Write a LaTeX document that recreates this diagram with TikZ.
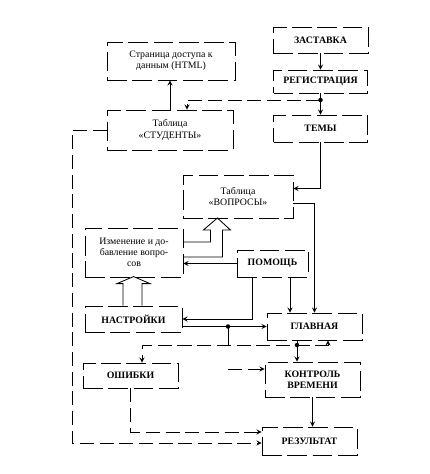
\documentclass[tikz,border=0pt]{standalone}
\usepackage{fontspec}
\setmainfont{Liberation Serif}
\begin{document}
\begin{tikzpicture}[
  x=0.025cm, y=-0.025cm,
  >=stealth,
  line width=0.6pt,
  blok/.style={
    draw,
    dash pattern=on 14pt off 4pt,
    align=center,
    inner sep=1pt,
    font=\fontsize{7}{8}\selectfont
  },
  blokb/.style={blok, font=\fontsize{7}{8}\selectfont\bfseries},
  razm/.style 2 args={minimum width=#1*0.025cm, minimum height=#2*0.025cm},
  pun/.style={dash pattern=on 10pt off 4pt}
]
\useasboundingbox (0,0) rectangle (429,474);

\node[blokb, razm={95}{26}] (zast) at (320.5,40) {ЗАСТАВКА};
\node[blokb, razm={94}{23}] (reg) at (320.5,81.5) {РЕГИСТРАЦИЯ};
\node[blokb, razm={94}{27}] (temy) at (320.5,128.5) {ТЕМЫ};
\node[blok, razm={128}{38}] (html) at (171,61) {Страница доступа к\\ данным (HTML)};
\node[blok, razm={126}{40}] (stud) at (170,130) {Таблица\\ «СТУДЕНТЫ»};
\node[blok, razm={110}{43}] (vopr) at (238,196.5) {Таблица\\ «ВОПРОСЫ»};
\node[blok, razm={98}{49}] (izm) at (134,252.5) {Изменение и до-\\ бавление вопро-\\ сов};
\node[blokb, razm={71}{27}] (pom) at (272.5,263.5) {ПОМОЩЬ};
\node[blokb, razm={97}{26}] (nast) at (133.5,319) {НАСТРОЙКИ};
\node[blokb, razm={95}{27}] (glav) at (314.5,326.5) {ГЛАВНАЯ};
\node[blokb, razm={95}{25}] (osh) at (130.5,375.5) {ОШИБКИ};
\node[blokb, razm={95}{35}] (kontr) at (312.5,379.5) {КОНТРОЛЬ\\ ВРЕМЕНИ};
\node[blokb, razm={95}{28}] (rez) at (309.5,441) {РЕЗУЛЬТАТ};

\coordinate (j1) at (320.5,100);
\coordinate (j2) at (228,326.5);
\coordinate (k1) at (142,345);
\coordinate (k2) at (228,369);
\coordinate (p1) at ([xshift=0.4375cm]pom.south);
\coordinate (g1) at ([xshift=0.3375cm]glav.south);
\coordinate (g2) at ([xshift=-0.4375cm]glav.south);

\draw[->] (zast) -- (reg);
\draw[->] (reg) -- (temy);
\fill (j1) circle (1.6pt);
\draw[->,pun] (j1) -| ([xshift=0.425cm]stud.north);
\draw[->] (stud.north) -- (stud.north |- html.south);
\draw[->,pun] (stud.west) -- ++(-34,0) |- ([yshift=-0.05cm]rez.west);
\draw[->,pun] (osh.south) |- ([yshift=0.225cm]rez.west);
\draw[->] (temy.south) |- ([yshift=0.2cm]vopr.east);
\draw[->] ([yshift=-0.175cm]vopr.east) -| (glav.north);

% hollow arrows
\draw ([yshift=0.2625cm]izm.east) -- ++(27,0) -- ++(0,-12) -- ++(-7,0) -- ++(14,-12)
  -- ++(13,12) -- ++(-8,0) -- ++(0,27) -- ++(-39,0);
\draw ([xshift=-0.2625cm]nast.north) -- ++(0,-22) -- ++(-6,0) -- ++(16.5,-7)
  -- ++(16.5,7) -- ++(-8,0) -- ++(0,22);

\draw[->] (pom.west) -- (izm.east |- pom.west);
\draw[->] ([xshift=-0.5125cm]pom.south) |- (nast.east);
\draw[->] (p1) -- (p1 |- glav.north);
\draw[->] ([yshift=-0.1875cm]nast.east) -- (glav.west);
\fill (j2) circle (1.6pt);
\draw (j2) -- (j2 |- k1);
\draw[<->,pun] (g1) |- (k1) -- (k1 |- osh.north);
\draw[->] (g2) -- (g2 |- kontr.north);
\fill (g2 |- k1) circle (1.6pt);
\draw[->,pun] (k2) -- (k2 -| kontr.west);
\draw[->] (kontr.south) -- (kontr.south |- rez.north);
\end{tikzpicture}
\end{document}
